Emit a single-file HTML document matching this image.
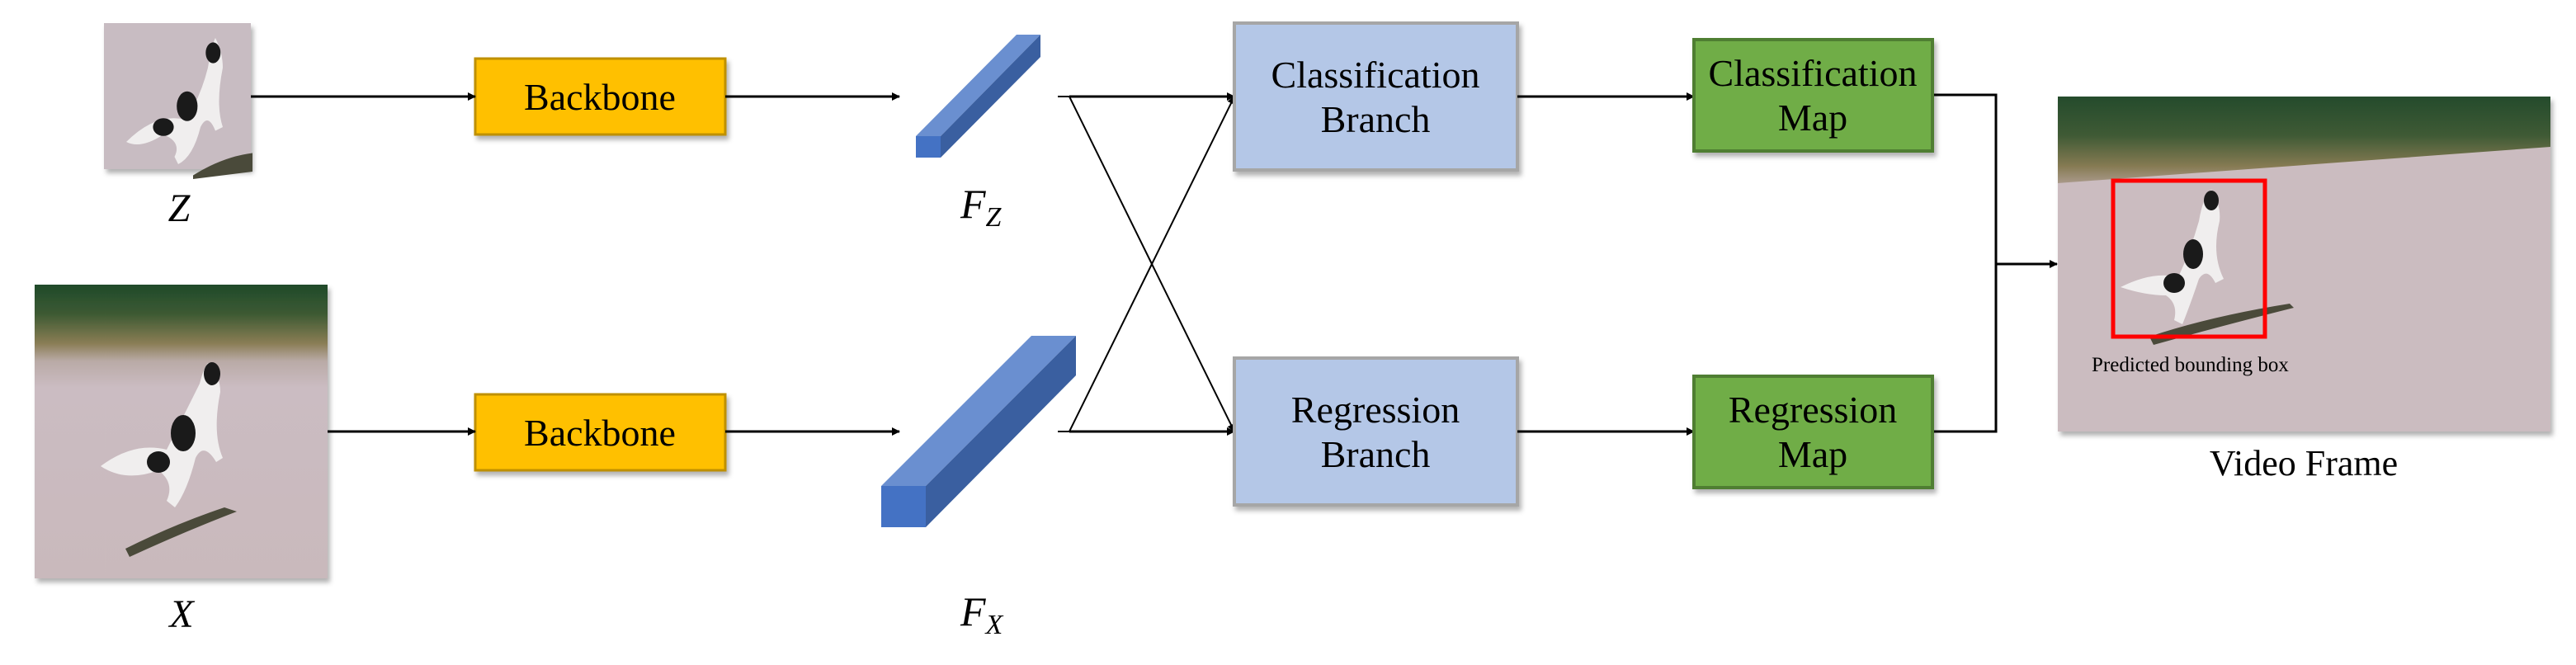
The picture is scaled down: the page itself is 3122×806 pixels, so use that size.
<!DOCTYPE html>
<html><head><meta charset="utf-8"><style>
html,body{margin:0;padding:0;background:#fff;}
svg{display:block;}
svg text{font-family:"Liberation Serif","Times New Roman",serif !important;fill:#000;}
</style></head><body>
<svg width="3122" height="806" viewBox="0 0 3122 806" xmlns="http://www.w3.org/2000/svg" font-family="Liberation Serif, Times New Roman, serif">
<defs>
<marker id="ar" markerWidth="10" markerHeight="10" refX="9" refY="5" orient="auto" markerUnits="userSpaceOnUse" viewBox="0 0 10 10">
<path d="M0,0 L10,5 L0,10 z" fill="#000"/></marker>
<filter id="sh" x="-10%" y="-10%" width="130%" height="130%"><feDropShadow dx="3" dy="5" stdDeviation="3" flood-color="#000" flood-opacity="0.3"/></filter>
<linearGradient id="sceneX" x1="0" y1="0" x2="0" y2="1">
<stop offset="0" stop-color="#1f4a2a"/><stop offset="0.1" stop-color="#3d5a33"/><stop offset="0.2" stop-color="#8a7d55"/><stop offset="0.26" stop-color="#b9aaa6"/><stop offset="0.35" stop-color="#cbbcc2"/><stop offset="1" stop-color="#c9b9bc"/></linearGradient>
<linearGradient id="veg" x1="0" y1="0" x2="0" y2="1">
<stop offset="0" stop-color="#244b2c"/><stop offset="0.45" stop-color="#3f5a35"/><stop offset="0.8" stop-color="#857a52"/><stop offset="1" stop-color="#a9998a"/></linearGradient>
</defs>

<!-- Z image -->
<rect x="126" y="28" width="178" height="177" fill="#c8bcc2" filter="url(#sh)"/>
<g transform="translate(126,28) scale(0.9)">
<path d="M30,160 Q70,120 110,130 Q130,100 140,60 Q145,30 150,20 Q160,40 160,60 Q150,110 160,140 L150,145 Q140,120 130,140 Q120,180 100,190 L95,180 Q105,160 80,150 Q50,170 30,160 z" fill="#f0eeee"/>
<ellipse cx="112" cy="112" rx="14" ry="20" fill="#1a1a1a"/>
<ellipse cx="80" cy="140" rx="14" ry="12" fill="#1a1a1a"/>
<ellipse cx="147" cy="40" rx="10" ry="14" fill="#1a1a1a"/>
<path d="M120,205 Q160,180 200,175 L200,200 Q160,205 120,210z" fill="#4a4a3a"/>
</g>

<!-- X image -->
<rect x="42" y="345" width="355" height="356" fill="url(#sceneX)" filter="url(#sh)"/>
<g transform="translate(42,345)">
<path d="M80,220 Q120,190 160,200 Q180,160 200,120 Q205,100 210,95 Q225,110 225,130 Q215,180 228,210 L220,215 Q205,190 195,210 Q185,250 170,270 L160,262 Q170,240 150,225 Q110,240 80,220 z" fill="#f0eeee"/>
<ellipse cx="180" cy="180" rx="15" ry="22" fill="#1a1a1a"/>
<ellipse cx="150" cy="215" rx="14" ry="13" fill="#1a1a1a"/>
<ellipse cx="215" cy="108" rx="10" ry="14" fill="#1a1a1a"/>
<path d="M110,320 Q170,290 230,270 L245,275 Q180,300 115,330z" fill="#4a4a3a"/>
</g>

<text x="217" y="268" font-size="48" font-style="italic" text-anchor="middle">Z</text>
<text x="220" y="760" font-size="48" font-style="italic" text-anchor="middle">X</text>

<!-- Backbones -->
<rect x="576" y="71" width="303" height="92" fill="#FFC000" stroke="#BF9000" stroke-width="3" filter="url(#sh)"/>
<text x="727" y="133" font-size="46" text-anchor="middle">Backbone</text>
<rect x="576" y="478" width="303" height="92" fill="#FFC000" stroke="#BF9000" stroke-width="3" filter="url(#sh)"/>
<text x="727" y="540" font-size="46" text-anchor="middle">Backbone</text>

<g stroke="#000" stroke-width="3" fill="none">
<line x1="304" y1="117" x2="576" y2="117" marker-end="url(#ar)"/>
<line x1="397" y1="523" x2="576" y2="523" marker-end="url(#ar)"/>
<line x1="879" y1="117" x2="1090" y2="117" marker-end="url(#ar)"/>
<line x1="879" y1="523" x2="1090" y2="523" marker-end="url(#ar)"/>
</g>

<!-- Fz bar -->
<polygon points="1110,165 1232,42 1261,42 1140,165" fill="#6A8FD0"/>
<polygon points="1140,165 1261,42 1261,69 1140,191" fill="#3A5FA0"/>
<rect x="1110" y="165" width="30" height="26" fill="#4472C4"/>
<!-- Fx bar -->
<polygon points="1068,589 1250,407 1304,407 1122,589" fill="#6A8FD0"/>
<polygon points="1122,589 1304,407 1304,455 1122,639" fill="#3A5FA0"/>
<rect x="1068" y="589" width="54" height="50" fill="#4472C4"/>

<text x="1164" y="264" font-size="50" font-style="italic">F<tspan font-size="34" dy="10">Z</tspan></text>
<text x="1164" y="758" font-size="50" font-style="italic">F<tspan font-size="34" dy="10">X</tspan></text>

<g stroke="#000" stroke-width="2" fill="none">
<polyline points="1282,117 1296,117 1496,523" marker-end="url(#ar)"/>
<polyline points="1282,523 1296,523 1496,117" marker-end="url(#ar)"/>
</g>
<g stroke="#000" stroke-width="3" fill="none">
<line x1="1296" y1="117" x2="1496" y2="117" marker-end="url(#ar)"/>
<line x1="1296" y1="523" x2="1496" y2="523" marker-end="url(#ar)"/>
</g>

<!-- Branches -->
<rect x="1496" y="28" width="343" height="178" fill="#B4C7E7" stroke="#A6A6A6" stroke-width="4" filter="url(#sh)"/>
<text x="1667" y="106" font-size="46" text-anchor="middle">Classification</text>
<text x="1667" y="160" font-size="46" text-anchor="middle">Branch</text>
<rect x="1496" y="434" width="343" height="178" fill="#B4C7E7" stroke="#A6A6A6" stroke-width="4" filter="url(#sh)"/>
<text x="1667" y="512" font-size="46" text-anchor="middle">Regression</text>
<text x="1667" y="566" font-size="46" text-anchor="middle">Branch</text>

<g stroke="#000" stroke-width="3" fill="none">
<line x1="1839" y1="117" x2="2053" y2="117" marker-end="url(#ar)"/>
<line x1="1839" y1="523" x2="2053" y2="523" marker-end="url(#ar)"/>
<polyline points="2342,115 2419,115 2419,523 2342,523"/>
<line x1="2419" y1="320" x2="2493" y2="320" marker-end="url(#ar)"/>
</g>

<!-- Maps -->
<rect x="2053" y="48" width="289" height="135" fill="#70AD47" stroke="#507E32" stroke-width="4" filter="url(#sh)"/>
<text x="2197" y="104" font-size="46" text-anchor="middle">Classification</text>
<text x="2197" y="158" font-size="46" text-anchor="middle">Map</text>
<rect x="2053" y="456" width="289" height="135" fill="#70AD47" stroke="#507E32" stroke-width="4" filter="url(#sh)"/>
<text x="2197" y="512" font-size="46" text-anchor="middle">Regression</text>
<text x="2197" y="566" font-size="46" text-anchor="middle">Map</text>

<!-- Video frame -->
<rect x="2494" y="117" width="597" height="406" fill="#cbbcc0" filter="url(#sh)"/>
<polygon points="2494,117 3091,117 3091,178 2494,222" fill="url(#veg)"/>
<g transform="translate(2560,218)">
<path d="M10,130 Q50,110 80,118 Q95,85 105,50 Q110,20 120,12 Q132,30 130,50 Q120,90 135,120 L125,125 Q115,105 105,120 Q95,150 85,175 L75,170 Q80,150 65,140 Q40,140 10,130 z" fill="#f0eeee"/>
<ellipse cx="98" cy="90" rx="12" ry="18" fill="#1a1a1a"/>
<ellipse cx="75" cy="125" rx="13" ry="12" fill="#1a1a1a"/>
<ellipse cx="120" cy="25" rx="9" ry="12" fill="#1a1a1a"/>
<path d="M45,190 Q120,165 215,150 L220,155 Q140,175 50,200z" fill="#4a4a3a"/>
</g>
<rect x="2561" y="219" width="184" height="189" fill="none" stroke="#FF0000" stroke-width="5"/>
<text x="2535" y="450" font-size="25">Predicted bounding box</text>
<text x="2792" y="576" font-size="44" text-anchor="middle">Video Frame</text>
</svg>
</body></html>
